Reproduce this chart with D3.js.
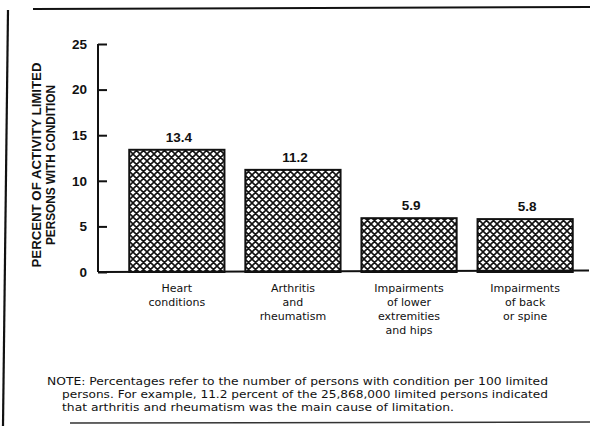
<!DOCTYPE html>
<html>
<head>
<meta charset="utf-8">
<script src="https://cdn.jsdelivr.net/npm/d3@7"></script>
<style>
  html, body { margin: 0; padding: 0; background: #fff; }
  svg { display: block; }
</style>
</head>
<body>
<svg id="chart" width="590" height="426"></svg>
<script>
const categories = [
  ["Heart", "conditions"],
  ["Arthritis", "and", "rheumatism"],
  ["Impairments", "of lower", "extremities", "and hips"],
  ["Impairments", "of back", "or spine"]
];
const values = [13.4, 11.2, 5.9, 5.8];
const valueLabels = ["13.4", "11.2", "5.9", "5.8"];
const yTicks = [0, 5, 10, 15, 20, 25];
const yTitle = ["PERCENT OF ACTIVITY LIMITED", "PERSONS WITH CONDITION"];
const noteLines = [
  "NOTE: Percentages refer to the number of persons with condition per 100 limited",
  "persons. For example, 11.2 percent of the 25,868,000 limited persons indicated",
  "that arthritis and rheumatism was the main cause of limitation."
];

const svg = d3.select("#chart");

// frame lines
svg.append("line").attr("x1", 8).attr("y1", 10).attr("x2", 3).attr("y2", 426)
  .attr("stroke", "#111").attr("stroke-width", 2.2);
svg.append("line").attr("x1", 33).attr("y1", 9).attr("x2", 590).attr("y2", 7)
  .attr("stroke", "#111").attr("stroke-width", 2);
svg.append("line").attr("x1", 70).attr("y1", 423).attr("x2", 590).attr("y2", 422)
  .attr("stroke", "#333").attr("stroke-width", 1.5);

// hatch pattern
const defs = svg.append("defs");
const pat = defs.append("pattern").attr("id", "hatch")
  .attr("patternUnits", "userSpaceOnUse").attr("width", 7).attr("height", 7);
pat.append("rect").attr("width", 7).attr("height", 7).attr("fill", "#fff");
pat.append("path").attr("d", "M0,0L7,7M-1,6L1,8M6,-1L8,1M0,7L7,0M-1,1L1,-1M6,8L8,6")
  .attr("stroke", "#111").attr("stroke-width", 1.6);

const x = d3.scaleBand().domain(d3.range(categories.length))
  .range([113, 589]).paddingInner(0.18).paddingOuter(0.14);
const y = d3.scaleLinear().domain([0, 25]).range([272, 44]);

// bars
svg.append("g").selectAll("rect").data(values).join("rect")
  .attr("x", (d, i) => x(i))
  .attr("y", d => y(d))
  .attr("width", x.bandwidth())
  .attr("height", d => y(0) - y(d))
  .attr("fill", "url(#hatch)")
  .attr("stroke", "#111").attr("stroke-width", 2);

// value labels
svg.append("g").selectAll("text").data(values).join("text")
  .attr("x", (d, i) => x(i) + x.bandwidth() / 2 + 2)
  .attr("y", d => y(d) - 8)
  .attr("text-anchor", "middle")
  .attr("font-family", "Liberation Sans, Arial, sans-serif")
  .attr("font-weight", "bold").attr("font-size", 13.5)
  .attr("fill", "#111")
  .text((d, i) => valueLabels[i]);

// y axis
const yAxis = d3.axisLeft(y).tickValues(yTicks).tickSize(-9).tickPadding(11)
  .tickFormat(d3.format("d"));
const gy = svg.append("g").attr("transform", "translate(98,0)").call(yAxis);
gy.select(".domain").attr("stroke", "#111").attr("stroke-width", 2)
  .attr("d", `M0,${y(25)}V${y(0)}`);
gy.selectAll(".tick line").attr("stroke", "#111").attr("stroke-width", 2);
gy.selectAll(".tick text")
  .attr("font-family", "Liberation Sans, Arial, sans-serif")
  .attr("font-weight", "bold").attr("font-size", 13.5).attr("fill", "#111");

// baseline
svg.append("line").attr("x1", 98).attr("x2", 589).attr("y1", y(0)).attr("y2", y(0) - 1.5)
  .attr("stroke", "#111").attr("stroke-width", 2);

// category labels
const cg = svg.append("g").selectAll("text").data(categories).join("text")
  .attr("text-anchor", "middle")
  .attr("font-family", "DejaVu Sans, sans-serif")
  .attr("font-size", 11).attr("fill", "#111");
cg.each(function(lines, i) {
  d3.select(this).selectAll("tspan").data(lines).join("tspan")
    .attr("x", x(i) + x.bandwidth() / 2)
    .attr("y", (d, j) => 292 + j * 14)
    .text(d => d);
});

// y title
const titleLen = [205, 160];
svg.append("g").selectAll("text").data(yTitle).join("text")
  .attr("transform", (d, i) => `translate(${41 + i * 14},165) rotate(-90)`)
  .attr("text-anchor", "middle")
  .attr("font-family", "Liberation Sans, Arial, sans-serif")
  .attr("font-weight", "bold").attr("font-size", 12).attr("fill", "#111")
  .attr("textLength", (d, i) => titleLen[i])
  .attr("lengthAdjust", "spacingAndGlyphs")
  .text(d => d);

// note
const noteX = [47, 62, 62];
const noteLen = [501, 486, 392];
svg.append("g").selectAll("text").data(noteLines).join("text")
  .attr("x", (d, i) => noteX[i])
  .attr("y", (d, i) => 385 + i * 13)
  .attr("font-family", "DejaVu Sans, sans-serif")
  .attr("font-size", 11).attr("fill", "#111")
  .attr("textLength", (d, i) => noteLen[i])
  .attr("lengthAdjust", "spacingAndGlyphs")
  .text(d => d);
</script>
</body>
</html>
